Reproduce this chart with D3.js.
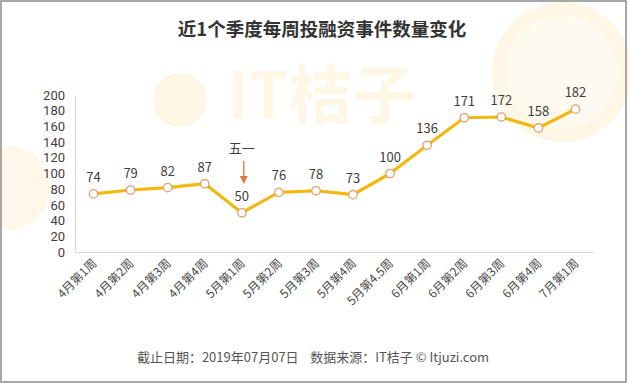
<!DOCTYPE html>
<html><head><meta charset="utf-8">
<script src="https://cdn.jsdelivr.net/npm/d3@7"></script>
<style>body{margin:0;background:#fff}svg{display:block}</style>
</head><body><svg id="c" width="629" height="384"></svg>
<script>
const categories = ["4月第1周","4月第2周","4月第3周","4月第4周","5月第1周","5月第2周","5月第3周","5月第4周","5月第4.5周","6月第1周","6月第2周","6月第3周","6月第4周","7月第1周"];
const values = [74,79,82,87,50,76,78,73,100,136,171,172,158,182];
const yTicks = [0,20,40,60,80,100,120,140,160,180,200];
const titleText = "近1个季度每周投融资事件数量变化";
const footerText = "截止日期：2019年07月07日    数据来源：IT桔子 © Itjuzi.com";
const annotation = {index:4, text:"五一"};

const svg = d3.select("#c");
const font = "'Noto Sans CJK SC','Microsoft YaHei',sans-serif";
const numFont = "Roboto,'Noto Sans',sans-serif";
const W=629,H=384;
svg.append("rect").attr("width",W).attr("height",H).attr("fill","#fff");

// faint watermark
const wm = svg.append("g");
wm.append("circle").attr("cx",562).attr("cy",72).attr("r",70).attr("fill","#fef7e6");
wm.append("circle").attr("cx",562).attr("cy",72).attr("r",56).attr("fill","#fffaf0");
wm.append("circle").attr("cx",8).attr("cy",188).attr("r",42).attr("fill","#fff8ea");
wm.append("circle").attr("cx",180).attr("cy",100).attr("r",27).attr("fill","#fff7e6");
wm.append("text").attr("x",322).attr("y",118).attr("text-anchor","middle")
  .attr("font-family",font).attr("font-size",64).attr("font-weight","bold").attr("fill","#fef7e6").text("IT桔子");

const x = d3.scaleBand().domain(categories).range([75,594]);
const y = d3.scaleLinear().domain([0,200]).range([252,95]);

// axes
const yAxis = svg.append("g").attr("transform","translate(75,0)")
  .call(d3.axisLeft(y).tickValues(yTicks).tickSize(0).tickPadding(10));
yAxis.select(".domain").attr("stroke","#d9d9d9");
yAxis.selectAll("text").attr("font-family",numFont).attr("font-size",13).attr("fill","#404040");

const xAxis = svg.append("g").attr("transform","translate(0,252)")
  .call(d3.axisBottom(x).tickSize(0).tickPadding(0));
xAxis.select(".domain").attr("stroke","#d9d9d9");
xAxis.selectAll("text").attr("font-family",font).attr("font-size",12).attr("fill","#4a4a4a")
  .attr("text-anchor","end").attr("dy",0).attr("transform","translate(4,12) rotate(-45)");

// line
const cx = d=>x(d)+x.bandwidth()/2;
svg.append("path").datum(values)
  .attr("d", d3.line().x((d,i)=>cx(categories[i])).y(d=>y(d)))
  .attr("fill","none").attr("stroke","#f2b811").attr("stroke-width",3.2).attr("stroke-linejoin","round");
svg.selectAll(".pt").data(values).join("circle")
  .attr("cx",(d,i)=>cx(categories[i])).attr("cy",d=>y(d)).attr("r",4.2)
  .attr("fill","#fff").attr("stroke","#e2a06a").attr("stroke-width",1.3);
svg.selectAll(".lbl").data(values).join("text")
  .attr("x",(d,i)=>cx(categories[i])).attr("y",d=>y(d)-12)
  .attr("text-anchor","middle").attr("font-family",font).attr("font-size",13).attr("fill","#404040").text(d=>d);

// annotation
const ax = cx(categories[annotation.index]);
svg.append("text").attr("x",ax).attr("y",153).attr("text-anchor","middle")
  .attr("font-family",font).attr("font-size",13).attr("fill","#404040").text(annotation.text);
svg.append("line").attr("x1",ax+2).attr("x2",ax+2).attr("y1",161).attr("y2",178).attr("stroke","#e0793a").attr("stroke-width",1.3);
svg.append("path").attr("d",`M${ax+2-4},176 L${ax+2+4},176 L${ax+2},184 Z`).attr("fill","#e0793a");

// title
svg.append("text").attr("x",322).attr("y",36).attr("text-anchor","middle")
  .attr("font-family",font).attr("font-size",18.5).attr("font-weight","bold").attr("fill","#333").text(titleText);
// footer
svg.append("text").attr("x",313).attr("y",362).attr("text-anchor","middle").attr("xml:space","preserve")
  .style("white-space","pre")
  .attr("font-family",font).attr("font-size",13).attr("fill","#555").text(footerText);

// frame
svg.append("rect").attr("x",1).attr("y",1).attr("width",625).attr("height",381)
  .attr("fill","none").attr("stroke","#8c8c8c").attr("stroke-width",1.5);
</script></body></html>
